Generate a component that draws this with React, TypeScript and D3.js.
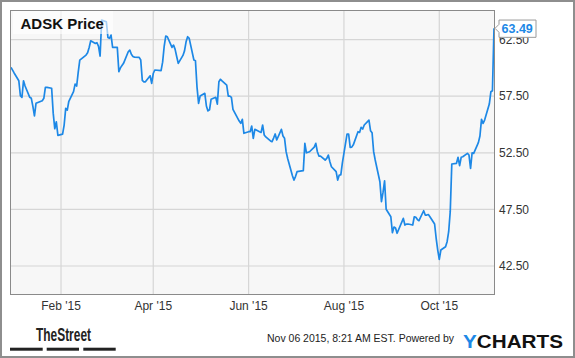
import React from "react";
import * as d3 from "d3";

const dates = [
  "2014-12-31","2015-01-02","2015-01-05","2015-01-06","2015-01-07","2015-01-08","2015-01-09","2015-01-12","2015-01-13","2015-01-14","2015-01-15","2015-01-16","2015-01-20","2015-01-21","2015-01-22","2015-01-23","2015-01-26","2015-01-27","2015-01-28","2015-01-29","2015-01-30",
  "2015-02-02","2015-02-03","2015-02-04","2015-02-05","2015-02-06","2015-02-09","2015-02-10","2015-02-11","2015-02-12","2015-02-13","2015-02-17","2015-02-18","2015-02-19","2015-02-20","2015-02-23","2015-02-24","2015-02-25","2015-02-26","2015-02-27",
  "2015-03-02","2015-03-03","2015-03-04","2015-03-05","2015-03-06","2015-03-09","2015-03-10","2015-03-11","2015-03-12","2015-03-13","2015-03-16","2015-03-17","2015-03-18","2015-03-19","2015-03-20","2015-03-23","2015-03-24","2015-03-25","2015-03-26","2015-03-27","2015-03-30","2015-03-31",
  "2015-04-01","2015-04-02","2015-04-06","2015-04-07","2015-04-08","2015-04-09","2015-04-10","2015-04-13","2015-04-14","2015-04-15","2015-04-16","2015-04-17","2015-04-20","2015-04-21","2015-04-22","2015-04-23","2015-04-24","2015-04-27","2015-04-28","2015-04-29","2015-04-30",
  "2015-05-01","2015-05-04","2015-05-05","2015-05-06","2015-05-07","2015-05-08","2015-05-11","2015-05-12","2015-05-13","2015-05-14","2015-05-15","2015-05-18","2015-05-19","2015-05-20","2015-05-21","2015-05-22","2015-05-26","2015-05-27","2015-05-28","2015-05-29",
  "2015-06-01","2015-06-02","2015-06-03","2015-06-04","2015-06-05","2015-06-08","2015-06-09","2015-06-10","2015-06-11","2015-06-12","2015-06-15","2015-06-16","2015-06-17","2015-06-18","2015-06-19","2015-06-22","2015-06-23","2015-06-24","2015-06-25","2015-06-26","2015-06-29","2015-06-30",
  "2015-07-01","2015-07-02","2015-07-06","2015-07-07","2015-07-08","2015-07-09","2015-07-10","2015-07-13","2015-07-14","2015-07-15","2015-07-16","2015-07-17","2015-07-20","2015-07-21","2015-07-22","2015-07-23","2015-07-24","2015-07-27","2015-07-28","2015-07-29","2015-07-30","2015-07-31",
  "2015-08-03","2015-08-04","2015-08-05","2015-08-06","2015-08-07","2015-08-10","2015-08-11","2015-08-12","2015-08-13","2015-08-14","2015-08-17","2015-08-18","2015-08-19","2015-08-20","2015-08-21","2015-08-24","2015-08-25","2015-08-26","2015-08-27","2015-08-28","2015-08-31",
  "2015-09-01","2015-09-02","2015-09-03","2015-09-04","2015-09-08","2015-09-09","2015-09-10","2015-09-11","2015-09-14","2015-09-15","2015-09-16","2015-09-17","2015-09-18","2015-09-21","2015-09-22","2015-09-23","2015-09-24","2015-09-25","2015-09-28","2015-09-29","2015-09-30",
  "2015-10-01","2015-10-02","2015-10-05","2015-10-06","2015-10-07","2015-10-08","2015-10-09","2015-10-12","2015-10-13","2015-10-14","2015-10-15","2015-10-16","2015-10-19","2015-10-20","2015-10-21","2015-10-22","2015-10-23","2015-10-26","2015-10-27","2015-10-28","2015-10-29","2015-10-30",
  "2015-11-02","2015-11-03","2015-11-04","2015-11-05"
];

const prices = [
  60.05,59.55,58.86,57.55,57.40,58.86,58.40,57.40,57.31,56.60,55.75,56.87,57.10,57.31,58.28,58.28,58.20,56.00,54.62,55.24,54.04,
  54.15,54.95,56.42,56.27,57.05,57.90,58.57,58.39,59.60,60.69,61.13,61.33,61.80,62.39,62.16,62.22,61.90,61.04,64.22,
  64.07,62.69,62.61,62.90,61.81,61.81,59.66,60.00,60.20,60.40,61.42,61.57,61.20,61.00,60.95,60.93,60.69,58.90,58.77,58.77,59.30,58.63,
  59.50,59.81,59.75,60.50,61.90,62.81,62.75,61.81,62.01,61.63,61.00,60.40,61.10,61.50,62.30,62.75,62.60,60.69,60.63,58.30,56.87,
  57.51,57.75,56.63,56.20,56.30,57.22,57.40,56.80,58.77,58.99,58.85,58.48,57.51,57.51,57.40,56.34,55.30,55.10,55.45,54.22,
  54.36,54.36,54.86,53.78,54.57,54.36,54.30,54.95,54.07,53.90,53.55,53.48,53.80,54.16,53.63,54.57,53.98,53.78,52.60,52.00,50.50,50.09,
  50.40,50.83,50.92,53.33,52.50,52.55,52.59,53.00,53.33,52.59,52.21,52.20,51.86,52.00,52.30,51.71,51.27,50.83,50.09,50.54,50.54,51.60,
  54.16,54.16,52.98,53.00,53.20,54.36,54.30,54.75,54.60,54.95,55.39,54.45,54.27,52.60,51.86,49.94,48.18,49.00,50.03,47.51,46.85,
  45.44,45.94,45.85,45.39,46.71,46.12,46.20,46.21,46.12,46.85,46.80,46.60,46.50,47.38,47.00,47.00,47.05,46.85,46.21,44.95,43.91,
  43.09,43.91,44.20,44.65,45.53,47.30,51.51,51.57,52.10,51.36,52.10,52.15,52.45,52.30,51.13,52.50,52.45,53.40,53.98,55.45,55.10,55.39,
  56.80,57.89,57.98,63.49
];

const yTicks = [42.5, 47.5, 52.5, 57.5, 62.5];
const xTicks = ["2015-02-01", "2015-04-01", "2015-06-01", "2015-08-01", "2015-10-01"];
const xTickLabels = ["Feb '15", "Apr '15", "Jun '15", "Aug '15", "Oct '15"];
const titleText = "ADSK Price";
const footerText = "Nov 06 2015, 8:21 AM EST.  Powered by";

const FONT = "'Liberation Sans', Arial, Helvetica, sans-serif";
const BLUE = "#1d88e6";

export default function App() {
  const W = 575, H = 358;
  const left = 10, right = 494, top = 10, bottom = 295;
  const parse = d3.utcParse("%Y-%m-%d");
  const data = dates.map((d, i) => ({ date: parse(d) as Date, value: prices[i] }));
  const x = d3.scaleUtc()
    .domain([data[0].date, data[data.length - 1].date])
    .range([left + 1, right]);
  const y = d3.scaleLinear().domain([39.94, 65.11]).range([bottom, top]);
  const line = d3.line<{ date: Date; value: number }>()
    .x(d => x(d.date))
    .y(d => y(d.value));
  const fmt = d3.format(".2f");
  const last = data[data.length - 1];
  const lx = x(last.date), ly = y(last.value);

  return (
    <div style={{ position: "absolute", left: 0, top: 0 }}>
      <svg width={W} height={H} style={{ display: "block", fontFamily: FONT }}>
        <rect x={0} y={0} width={W} height={H} fill="#fff" />
        <rect x={1} y={1} width={W - 2} height={H - 2} fill="none" stroke="#8e8e8e" strokeWidth={2} />
        <rect x={left} y={top} width={right - left} height={bottom - top} fill="#f7f7f7" />
        {yTicks.map(t => (
          <line key={"gy" + t} x1={left} x2={right} y1={y(t)} y2={y(t)} stroke="#d6d6d6" strokeWidth={1.2} />
        ))}
        {xTicks.map(t => (
          <line key={"gx" + t} x1={x(parse(t) as Date)} x2={x(parse(t) as Date)} y1={top} y2={bottom} stroke="#d6d6d6" strokeWidth={1.2} />
        ))}
        <path d={line(data) || ""} fill="none" stroke={BLUE} strokeWidth={1.7} strokeLinejoin="round" />
        <rect x={13} y={11} width={100} height={23} fill="#ffffff" opacity={0.6} />
        <text x={20.5} y={29.3} fontSize={15} fontWeight="bold" fill="#111">{titleText}</text>
        <rect x={left + 0.5} y={top + 0.5} width={right - left} height={bottom - top - 1} fill="none" stroke="#8a8a8a" strokeWidth={1} />
        {yTicks.map(t => (
          <text key={"ly" + t} x={499} y={y(t) + 4.3} fontSize={12} fill="#333">{fmt(t)}</text>
        ))}
        {xTicks.map((t, i) => (
          <text key={"lx" + t} x={x(parse(t) as Date)} y={310} fontSize={12} fill="#333" textAnchor="middle">{xTickLabels[i]}</text>
        ))}
        <path
          d={`M${lx + 1},${ly} L${lx + 5},${ly - 4} L${lx + 5},${ly - 8.3} L${lx + 42},${ly - 8.3} L${lx + 42},${ly + 9} L${lx + 5},${ly + 9} L${lx + 5},${ly + 4} Z`}
          fill="#fff" stroke="#9a9a9a" strokeWidth={1}
        />
        <text x={lx + 7.5} y={ly + 5} fontSize={12.5} fontWeight="bold" fill={BLUE}>{fmt(last.value)}</text>
        <text x={36} y={341} fontSize={17.5} fontWeight="bold" fill="#222" textLength={55} lengthAdjust="spacingAndGlyphs">TheStreet</text>
        <rect x={10} y={347.7} width={32.7} height={3} fill="#222" />
        <rect x={46.7} y={347.7} width={32.3} height={3} fill="#222" />
        <rect x={83.3} y={347.7} width={32.4} height={3} fill="#222" />
        <text x={267} y={342} fontSize={11} fill="#222" textLength={187} lengthAdjust="spacingAndGlyphs">{footerText}</text>
        <text x={463} y={348.3} fontSize={17.5} fontWeight={900} fill="#111" textLength={100} lengthAdjust="spacingAndGlyphs">
          <tspan fill={BLUE}>Y</tspan>CHARTS
        </text>
      </svg>
    </div>
  );
}
